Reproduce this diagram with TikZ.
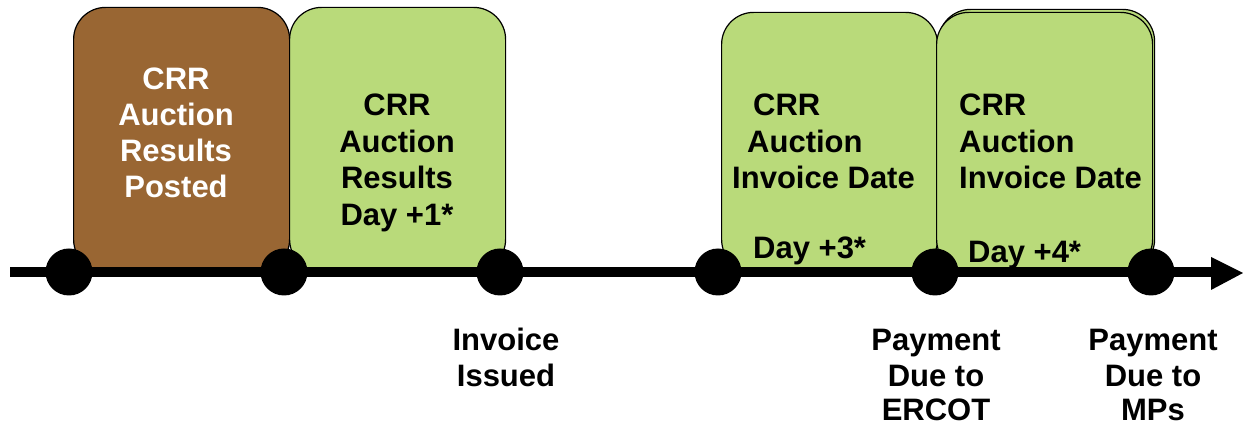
\documentclass[tikz,border=0pt]{standalone}
\usepackage{fontspec}
\setmainfont{Liberation Sans}
\definecolor{brownbox}{RGB}{153,102,51}
\definecolor{greenbox}{RGB}{185,218,122}
\begin{document}
\begin{tikzpicture}[x=1pt,y=-1pt,
  box/.style={draw=black, line width=1.2pt, rounded corners=32pt, inner sep=0pt, anchor=south west},
  lbl/.style={font=\fontsize{31}{36}\selectfont\bfseries, inner sep=0pt, anchor=base},
  lblw/.style={lbl, anchor=base west},
  dot/.style={circle, fill=black, minimum size=47pt, inner sep=0pt}]
\useasboundingbox (0,0) rectangle (1243,427);
% boxes
\node[box, fill=brownbox, minimum width=216pt, minimum height=264pt] (b1) at (73,272) {};
\node[box, fill=greenbox, minimum width=216pt, minimum height=264pt] (b2) at (289,272) {};
\node[box, fill=greenbox, minimum width=216pt, minimum height=259pt] (b3) at (721,272) {};
\node[box, fill=greenbox, minimum width=216pt, minimum height=262pt] (b4s) at (938,272) {};
\node[box, fill=greenbox, minimum width=216pt, minimum height=259pt] (b4) at (936,272) {};
% brown text
\node[lbl, white] (t11) at (176,90) {CRR};
\node[lbl, white] (t12) at (176,126) {Auction};
\node[lbl, white] (t13) at (176,162) {Results};
\node[lbl, white] (t14) at (176,198) {Posted};
% green 1 text
\node[lbl] (t21) at (397,116) {CRR};
\node[lbl] (t22) at (397,153) {Auction};
\node[lbl] (t23) at (397,189) {Results};
\node[lbl] (t24) at (397,226) {Day +1*};
% green 2 text
\node[lblw] (t31) at (753,116) {CRR};
\node[lblw] (t32) at (747,153) {Auction};
\node[lblw] (t33) at (732,189) {Invoice Date};
\node[lblw] (t34) at (753,259) {Day +3*};
% green 3 text
\node[lblw] (t41) at (959,116) {CRR};
\node[lblw] (t42) at (959,153) {Auction};
\node[lblw] (t43) at (959,189) {Invoice Date};
\node[lblw] (t44) at (968,263) {Day +4*};
% timeline
\coordinate (ls) at (10,272);
\coordinate (le) at (1212,272);
\coordinate (tip) at (1243,273);
\draw[line width=10pt] (ls) -- (le);
\fill[black] (1211,257) -- (tip) -- (1211,290) -- cycle;
% dots
\node[dot] (d1) at (69,272) {};
\node[dot] (d2) at (284,272) {};
\node[dot] (d3) at (500,272) {};
\node[dot] (d4) at (718,272) {};
\node[dot] (d5) at (935,272) {};
\node[dot] (d6) at (1151,272) {};
% bottom labels
\node[lbl] (u1) at (506,351) {Invoice};
\node[lbl] (u2) at (506,387) {Issued};
\node[lbl] (v1) at (936,351) {Payment};
\node[lbl] (v2) at (936,387) {Due to};
\node[lbl] (v3) at (936,421) {ERCOT};
\node[lbl] (w1) at (1153,351) {Payment};
\node[lbl] (w2) at (1153,387) {Due to};
\node[lbl] (w3) at (1153,421) {MPs};
\end{tikzpicture}
\end{document}
